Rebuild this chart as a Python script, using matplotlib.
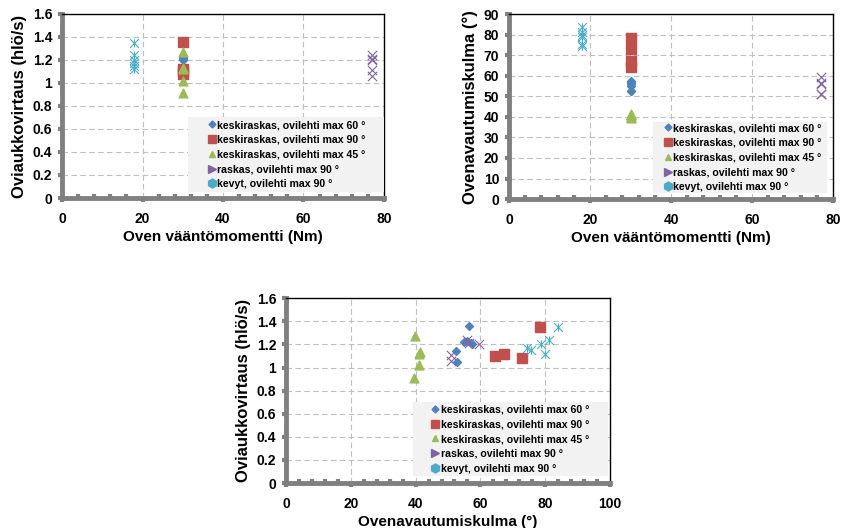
import matplotlib.pyplot as plt
from matplotlib.lines import Line2D
from matplotlib.patches import Rectangle
from matplotlib.ticker import MultipleLocator

plt.rcParams['font.family'] = ['Liberation Sans', 'DejaVu Sans']
plt.rcParams['font.weight'] = 'bold'

# series labels
labels = ["keskiraskas, ovilehti max 60 °",
          "keskiraskas, ovilehti max 90 °",
          "keskiraskas, ovilehti max 45 °",
          "raskas, ovilehti max 90 °",
          "kevyt, ovilehti max 90 °"]
colors = ["#4F81BD", "#C0504D", "#9BBB59", "#8064A2", "#4BACC6"]

# oven vääntömomentti (Nm)
torque_60 = [30, 30, 30, 30, 30, 30, 30]
torque_90 = [30, 30, 30, 30]
torque_45 = [30, 30, 30, 30, 30]
torque_raskas = [77, 77, 77, 77, 77]
torque_kevyt = [18, 18, 18, 18, 18, 18]

# ovenavautumiskulma (°)
angle_60 = [56.4, 55.0, 56.0, 57.0, 57.5, 52.5, 52.8]
angle_90 = [64.5, 67.3, 72.9, 78.3]
angle_45 = [39.8, 40.9, 41.3, 41.1, 39.6]
angle_raskas = [51.0, 51.0, 56.0, 56.5, 59.5]
angle_kevyt = [84.0, 81.3, 78.7, 79.8, 74.5, 75.7]

# oviaukkovirtaus (hlö/s)
flow_60 = [1.36, 1.22, 1.23, 1.21, 1.20, 1.14, 1.05]
flow_90 = [1.10, 1.12, 1.08, 1.355]
flow_45 = [1.27, 1.12, 1.13, 1.02, 0.91]
flow_raskas = [1.11, 1.06, 1.24, 1.21, 1.20]
flow_kevyt = [1.35, 1.24, 1.20, 1.12, 1.17, 1.15]

torques = [torque_60, torque_90, torque_45, torque_raskas, torque_kevyt]
angles = [angle_60, angle_90, angle_45, angle_raskas, angle_kevyt]
flows = [flow_60, flow_90, flow_45, flow_raskas, flow_kevyt]


def draw_series(ax, xs, ys):
    ax.scatter(xs[0], ys[0], marker='D', s=16, color=colors[0], zorder=3)
    ax.scatter(xs[1], ys[1], marker='s', s=55, color=colors[1], zorder=3)
    ax.scatter(xs[2], ys[2], marker='^', s=40, color=colors[2], zorder=3)
    ax.scatter(xs[3], ys[3], marker='x', s=45, color=colors[3], linewidths=0.8, zorder=3)
    ax.scatter(xs[4], ys[4], marker='x', s=40, color=colors[4], linewidths=0.8, zorder=3)
    ax.scatter(xs[4], ys[4], marker='|', s=40, color=colors[4], linewidths=0.8, zorder=3)


def style_axes(ax, xmax, xstep, ymax, ystep, xlabel, ylabel, yfmt):
    ax.set_xlim(0, xmax)
    ax.set_ylim(0, ymax)
    ax.xaxis.set_major_locator(MultipleLocator(xstep))
    ax.xaxis.set_minor_locator(MultipleLocator(xstep / 5))
    ax.yaxis.set_major_locator(MultipleLocator(ystep))
    ax.grid(True, which='major', linestyle=(0, (5, 3)), color='#bfbfbf', linewidth=0.8)
    for s in ('left', 'bottom'):
        ax.spines[s].set_color('#808080')
        ax.spines[s].set_linewidth(3.5)
    for s in ('top', 'right'):
        ax.spines[s].set_color('black')
        ax.spines[s].set_linewidth(1)
    ax.tick_params(which='major', direction='out', length=3, width=3, color='#808080',
                   labelsize=10, pad=4)
    ax.tick_params(axis='x', which='major', pad=7)
    ax.tick_params(axis='x', which='minor', direction='in', length=3, width=3, color='#808080')
    ax.set_xlabel(xlabel, fontsize=11, fontweight='bold', labelpad=3)
    ax.set_ylabel(ylabel, fontsize=12, fontweight='bold', labelpad=4)
    ax.set_yticklabels([yfmt(v) for v in ax.get_yticks()])
    for t in ax.get_xticklabels() + ax.get_yticklabels():
        t.set_fontweight('bold')


def add_legend(ax, box, anchor):
    ax.add_patch(Rectangle((box[0], box[1]), box[2], box[3], transform=ax.transAxes,
                           facecolor='#f2f2f2', edgecolor='none', zorder=4, clip_on=False))
    handles = [
        Line2D([], [], marker='D', linestyle='none', color=colors[0], markersize=3.5),
        Line2D([], [], marker='s', linestyle='none', color=colors[1], markersize=6),
        Line2D([], [], marker='^', linestyle='none', color=colors[2], markersize=4.5),
        Line2D([], [], marker='>', linestyle='none', color=colors[3], markersize=6),
        Line2D([], [], marker='h', linestyle='none', color=colors[4], markersize=6.5),
    ]
    leg = ax.legend(handles, labels, loc='center left', bbox_to_anchor=anchor,
                    prop={'size': 7.6, 'weight': 'bold'}, frameon=False,
                    handlelength=0.8, handletextpad=0.1, labelspacing=0.45,
                    borderpad=0, borderaxespad=0)
    leg.set_zorder(5)


def fmt_flow(v):
    return '0' if v == 0 else ('1' if abs(v - 1) < 1e-9 else f'{v:.1f}')


fig = plt.figure(figsize=(8.45, 5.28), dpi=100)

ax1 = fig.add_axes([0.0734, 0.625, 0.381, 0.3485])
draw_series(ax1, torques, flows)
style_axes(ax1, 80, 20, 1.6, 0.2, 'Oven vääntömomentti (Nm)', 'Oviaukkovirtaus (hlö/s)', fmt_flow)
add_legend(ax1, (0.391, 0.033, 0.609, 0.407), (0.453, 0.236))

ax2 = fig.add_axes([0.6024, 0.623, 0.3834, 0.350])
draw_series(ax2, torques, angles)
style_axes(ax2, 80, 20, 90, 10, 'Oven vääntömomentti (Nm)', 'Ovenavautumiskulma (°)',
           lambda v: f'{v:.0f}')
add_legend(ax2, (0.444, 0.032, 0.537, 0.384), (0.478, 0.224))

ax3 = fig.add_axes([0.3385, 0.0852, 0.3834, 0.350])
draw_series(ax3, angles, flows)
style_axes(ax3, 100, 20, 1.6, 0.2, 'Ovenavautumiskulma (°)', 'Oviaukkovirtaus (hlö/s)', fmt_flow)
add_legend(ax3, (0.392, 0.038, 0.602, 0.40), (0.4475, 0.238))

fig.savefig('out.png', dpi=100)
